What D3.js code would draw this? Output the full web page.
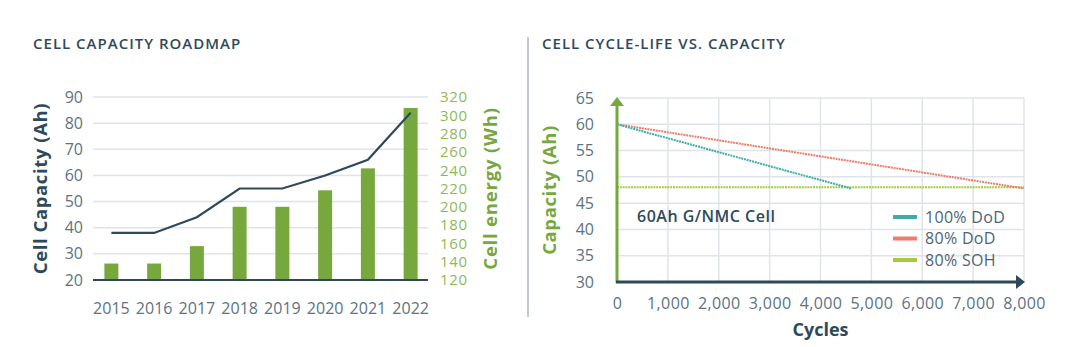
<!DOCTYPE html>
<html>
<head>
<meta charset="utf-8">
<script src="https://cdn.jsdelivr.net/npm/d3@7"></script>
<style>
  body { margin: 0; background: #fff; }
  svg { display: block; font-family: "Open Sans", sans-serif; }
</style>
</head>
<body>
<svg id="chart"></svg>
<script>
// roadmap data
const years = ["2015", "2016", "2017", "2018", "2019", "2020", "2021", "2022"];
const capacityAh = [38, 38, 44, 55, 55, 60, 66, 84];
const energyWh = [138, 138, 157, 200, 200, 218, 242, 308];
const capTicks = [20, 30, 40, 50, 60, 70, 80, 90];
const energyTicks = [120, 140, 160, 180, 200, 220, 240, 260, 280, 300, 320];

// cycle-life data
const cycleTicks = [0, 1000, 2000, 3000, 4000, 5000, 6000, 7000, 8000];
const ahTicks = [30, 35, 40, 45, 50, 55, 60, 65];
const seriesNames = ["100% DoD", "80% DoD", "80% SOH"];
const dod100 = [[0, 60], [4600, 47.8]];
const dod80 = [[0, 60], [8000, 47.8]];
const soh80 = [[0, 48], [8000, 48]];

const dark = "#2e4a5a";
const tickGray = "#5b7382";
const green = "#76a83e";
const lightGreen = "#8cba58";
const gridColor = "#dfe4e8";

const svg = d3.select("#chart").attr("width", 1080).attr("height", 347);

// ---------- left: capacity roadmap ----------
const x = d3.scaleBand().domain(years).range([90, 432]);
const yCap = d3.scaleLinear().domain([20, 90]).range([280, 97]);
const yWh = d3.scaleLinear().domain([120, 320]).range([280, 97]);

svg.append("text")
    .attr("x", 33).attr("y", 49)
    .attr("fill", dark)
    .attr("font-size", 15).attr("font-weight", 600)
    .attr("letter-spacing", 1)
    .text("CELL CAPACITY ROADMAP");

// gridlines
svg.append("g")
    .selectAll("line")
    .data(capTicks.slice(1))
    .enter().append("line")
    .attr("x1", 93).attr("x2", 428)
    .attr("y1", d => yCap(d)).attr("y2", d => yCap(d))
    .attr("stroke", gridColor).attr("stroke-width", 1.5);

// bars (right axis)
svg.append("g")
    .selectAll("rect")
    .data(years)
    .enter().append("rect")
    .attr("x", d => x(d) + x.bandwidth() / 2 - 7)
    .attr("width", 14)
    .attr("y", (d, i) => yWh(energyWh[i]))
    .attr("height", (d, i) => yWh(120) - yWh(energyWh[i]))
    .attr("fill", green);

// baseline
svg.append("line")
    .attr("x1", 93).attr("x2", 428)
    .attr("y1", yCap(20)).attr("y2", yCap(20))
    .attr("stroke", dark).attr("stroke-width", 2);

// capacity line
const capLine = d3.line()
    .x((d, i) => x(years[i]) + x.bandwidth() / 2)
    .y(d => yCap(d));
svg.append("path")
    .datum(capacityAh)
    .attr("d", capLine)
    .attr("fill", "none")
    .attr("stroke", dark).attr("stroke-width", 2.2);

// axes
const leftAxis = svg.append("g")
    .attr("transform", "translate(83,0)")
    .call(d3.axisLeft(yCap).tickValues(capTicks).tickSize(0).tickPadding(0));
const rightAxis = svg.append("g")
    .attr("transform", "translate(440,0)")
    .call(d3.axisRight(yWh).tickValues(energyTicks).tickSize(0).tickPadding(0));
const bottomAxis = svg.append("g")
    .attr("transform", "translate(0,303)")
    .call(d3.axisBottom(x).tickSize(0).tickPadding(0));

[leftAxis, bottomAxis].forEach(g => {
    g.select(".domain").remove();
    g.selectAll("text").attr("font-family", "Open Sans").attr("font-size", 16).attr("fill", tickGray);
});
bottomAxis.selectAll("text").attr("dy", "0.71em");
rightAxis.select(".domain").remove();
rightAxis.selectAll("text")
    .attr("font-family", "Open Sans").attr("font-size", 15)
    .attr("letter-spacing", 0.7)
    .attr("fill", lightGreen);

svg.append("text")
    .attr("transform", `translate(47,${(yCap(20) + yCap(90)) / 2}) rotate(-90)`)
    .attr("text-anchor", "middle")
    .attr("fill", dark)
    .attr("font-size", 18.5).attr("font-weight", 700)
    .attr("letter-spacing", 0.6)
    .text("Cell Capacity (Ah)");

svg.append("text")
    .attr("transform", `translate(497,${(yCap(20) + yCap(90)) / 2}) rotate(-90)`)
    .attr("text-anchor", "middle")
    .attr("fill", green)
    .attr("font-size", 18.5).attr("font-weight", 700)
    .attr("letter-spacing", 0.8)
    .text("Cell energy (Wh)");

// divider
svg.append("line")
    .attr("x1", 528).attr("x2", 528)
    .attr("y1", 37).attr("y2", 317)
    .attr("stroke", "#8796a0").attr("stroke-width", 1);

// ---------- right: cycle life ----------
const xc = d3.scaleLinear().domain([0, 8000]).range([617, 1024]);
const yc = d3.scaleLinear().domain([30, 65]).range([282, 98]);

svg.append("text")
    .attr("x", 542).attr("y", 49)
    .attr("fill", dark)
    .attr("font-size", 15).attr("font-weight", 600)
    .attr("letter-spacing", 1)
    .text("CELL CYCLE-LIFE VS. CAPACITY");

const grid = svg.append("g");
grid.selectAll(".h")
    .data(ahTicks)
    .enter().append("line")
    .attr("x1", xc(0)).attr("x2", xc(8000))
    .attr("y1", d => yc(d)).attr("y2", d => yc(d))
    .attr("stroke", gridColor).attr("stroke-width", 1.5);
grid.selectAll(".v")
    .data(cycleTicks.slice(1))
    .enter().append("line")
    .attr("x1", d => xc(d)).attr("x2", d => xc(d))
    .attr("y1", yc(30)).attr("y2", yc(65))
    .attr("stroke", gridColor).attr("stroke-width", 1.5);

const seriesData = [dod100, dod80, soh80];
const seriesColors = ["#3fada6", "#f07b68", "#a5cb3c"];
const cLine = d3.line().x(d => xc(d[0])).y(d => yc(d[1]));

// SOH threshold drawn first, DoD curves on top
[2, 1, 0].forEach(i => {
    svg.append("path")
        .datum(seriesData[i])
        .attr("d", cLine)
        .attr("fill", "none")
        .attr("stroke", seriesColors[i])
        .attr("stroke-width", 2)
        .attr("stroke-dasharray", "2,0.8");
});

// axis arrows
svg.append("line")
    .attr("x1", xc(0)).attr("x2", xc(0))
    .attr("y1", yc(30) + 1).attr("y2", yc(65) + 6)
    .attr("stroke", green).attr("stroke-width", 3);
svg.append("path")
    .attr("d", `M${xc(0) - 7},${yc(65) + 8} L${xc(0)},${yc(65) - 1} L${xc(0) + 7},${yc(65) + 8} Z`)
    .attr("fill", green);
svg.append("line")
    .attr("x1", xc(0) - 1).attr("x2", xc(8000) - 6)
    .attr("y1", yc(30)).attr("y2", yc(30))
    .attr("stroke", dark).attr("stroke-width", 3);
svg.append("path")
    .attr("d", `M${xc(8000) - 8},${yc(30) - 7} L${xc(8000) + 1},${yc(30)} L${xc(8000) - 8},${yc(30) + 7} Z`)
    .attr("fill", dark);

const cyAxis = svg.append("g")
    .attr("transform", "translate(594,0)")
    .call(d3.axisLeft(yc).tickValues(ahTicks).tickSize(0).tickPadding(0));
const cxAxis = svg.append("g")
    .attr("transform", "translate(0,298)")
    .call(d3.axisBottom(xc).tickValues(cycleTicks).tickSize(0).tickPadding(0)
        .tickFormat(d3.format(",")));
[cyAxis, cxAxis].forEach(g => {
    g.select(".domain").remove();
    g.selectAll("text").attr("font-family", "Open Sans").attr("font-size", 16).attr("fill", tickGray);
});
cxAxis.selectAll("text").attr("dy", "0.71em").attr("letter-spacing", 0.4);

svg.append("text")
    .attr("x", (xc(0) + xc(8000)) / 2).attr("y", 336)
    .attr("text-anchor", "middle")
    .attr("fill", dark)
    .attr("font-size", 18).attr("font-weight", 700)
    .text("Cycles");

svg.append("text")
    .attr("transform", `translate(556,${(yc(30) + yc(65)) / 2}) rotate(-90)`)
    .attr("text-anchor", "middle")
    .attr("fill", green)
    .attr("font-size", 18.5).attr("font-weight", 700)
    .attr("letter-spacing", 0.6)
    .text("Capacity (Ah)");

svg.append("text")
    .attr("x", 637).attr("y", 222)
    .attr("fill", dark)
    .attr("font-size", 16).attr("font-weight", 600)
    .attr("letter-spacing", 0.5)
    .text("60Ah G/NMC Cell");

// legend
const legend = svg.append("g");
seriesNames.forEach((name, i) => {
    const ly = 217 + i * 21.5;
    legend.append("line")
        .attr("x1", 893).attr("x2", 917)
        .attr("y1", ly).attr("y2", ly)
        .attr("stroke", seriesColors[i]).attr("stroke-width", 4);
    legend.append("text")
        .attr("x", 925).attr("y", ly)
        .attr("dy", "0.35em")
        .attr("fill", "#4e6474")
        .attr("font-size", 16)
        .attr("letter-spacing", 0.3)
        .text(name);
});
</script>
</body>
</html>
